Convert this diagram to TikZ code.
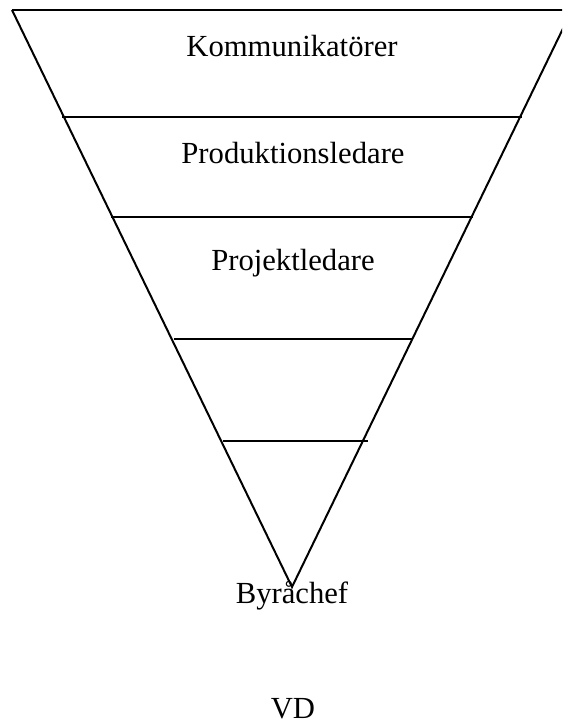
\documentclass[tikz,border=0pt]{standalone}
\usepackage{fontspec}
\setmainfont{Liberation Serif}
\usetikzlibrary{calc}

\begin{document}
\begin{tikzpicture}[x=0.75pt,y=-0.75pt,line width=1.5pt,
                    every node/.style={font=\fontsize{23}{27}\selectfont,anchor=base},
                    level/.style={line width=1.5pt}]
  \useasboundingbox (0,0) rectangle (562,724);
  \clip (0,0) rectangle (562,724);
  % the triangle, apex down
  \coordinate (tl) at (12,10);
  \coordinate (tr) at (572,10);
  \coordinate (apex) at (292,587);
  \draw (tl) -- (tr);
  \draw (tl) -- (apex) -- (tr);
  % levels
  \coordinate (l1a) at (62,117);  \coordinate (l1b) at (522,117);
  \coordinate (l2a) at (111,217); \coordinate (l2b) at (473,217);
  \coordinate (l3a) at (174,339); \coordinate (l3b) at (413,339);
  \coordinate (l4a) at (223,441); \coordinate (l4b) at (368,441);
  \draw[level] (l1a) -- (l1b);
  \draw[level] (l2a) -- (l2b);
  \draw[level] (l3a) -- (l3b);
  \draw[level] (l4a) -- (l4b);
  % labels
  \node (komm) at (292,57) {Kommunikatörer};
  \node (prod) at (293,163) {Produktionsledare};
  \node (proj) at (293,270) {Projektledare};
  \node (byra) at (292,603) {Byråchef};
  \node (vd) at (293,718) {VD};
\end{tikzpicture}
\end{document}
